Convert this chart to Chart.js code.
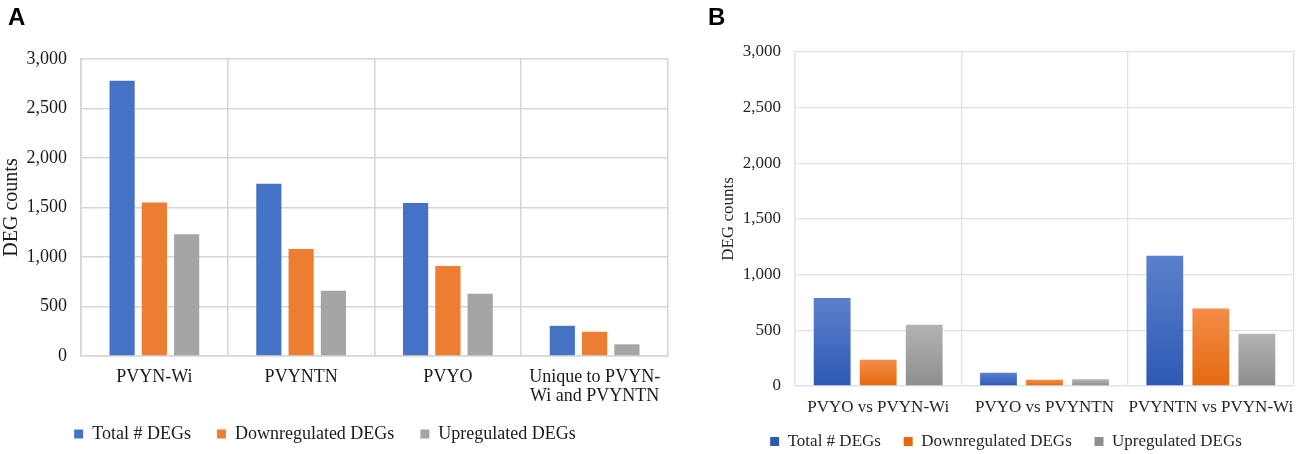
<!DOCTYPE html>
<html>
<head>
<meta charset="utf-8">
<script src="https://cdn.jsdelivr.net/npm/chart.js@4.4.1/dist/chart.umd.min.js"></script>
<style>
  html, body { margin: 0; padding: 0; background: #fff; width: 1299px; height: 454px; overflow: hidden; }
  canvas { position: absolute; top: 0; display: block; }
  .letter { position: absolute; top: 5px; font: bold 24px 'Liberation Sans', Arial, sans-serif; line-height: 24px; color: #000; }
</style>
</head>
<body>
<canvas id="chartA" width="690" height="453" style="left:0"></canvas>
<canvas id="chartB" width="609" height="460" style="left:690px"></canvas>
<div class="letter" style="left:8px">A</div>
<div class="letter" style="left:708px">B</div>
<script>
// panel A
const categoriesA = ['PVYN-Wi', 'PVYNTN', 'PVYO', ['Unique to PVYN-', 'Wi and PVYNTN']];
const totalA = [2780, 1740, 1545, 305];
const downA = [1550, 1080, 910, 245];
const upA = [1230, 660, 630, 118];

// panel B
const categoriesB = ['PVYO vs PVYN-Wi', 'PVYO vs PVYNTN', 'PVYNTN vs PVYN-Wi'];
const totalB = [790, 120, 1170];
const downB = [235, 57, 695];
const upB = [550, 60, 470];

const seriesNames = ['Total # DEGs', 'Downregulated DEGs', 'Upregulated DEGs'];
const yTicks = [0, 500, 1000, 1500, 2000, 2500, 3000];

const serif = "'Liberation Serif', 'Times New Roman', serif";

Chart.defaults.font.family = serif;
Chart.defaults.animation = false;

function fixW(w) { return function (s) { s.width = w; }; }
function fixH(h) { return function (s) { s.height = h; }; }

// per-bar vertical gradient for panel B
function grad(top, bottom, flat) {
  return function (ctx) {
    if (ctx.type !== 'data') return flat;
    const chart = ctx.chart;
    const y = chart.scales.y;
    if (!y) return flat;
    const y0 = y.getPixelForValue(0);
    const y1 = y.getPixelForValue(ctx.raw);
    if (!isFinite(y0) || !isFinite(y1) || y0 === y1) return flat;
    const g = chart.ctx.createLinearGradient(0, y1, 0, y0);
    g.addColorStop(0, top);
    g.addColorStop(1, bottom);
    return g;
  };
}

// legend spacing: pad item text with spaces (gap[i] spaces after item i)
function spacedLabels(gaps) {
  return function (chart) {
    const items = Chart.defaults.plugins.legend.labels.generateLabels(chart);
    items.forEach((it, i) => { it.text = it.text + ' '.repeat(gaps[i] || 0); });
    return items;
  };
}

function yScale(o) {
  return {
    min: 0,
    max: 3000,
    afterBuildTicks: function (s) { s.ticks = yTicks.map(v => ({ value: v })); },
    afterFit: fixW(o.yw),
    border: { color: o.grid, width: o.gw },
    grid: { color: o.grid, lineWidth: o.gw, drawTicks: false },
    ticks: { padding: 14, color: o.text, font: { size: o.size, family: serif } },
    title: { display: true, text: 'DEG counts', color: o.text, padding: 0,
             font: { size: o.titleSize, family: serif } }
  };
}

// invisible tick marks give the label gap without widening the side padding
function xScale(o) {
  return {
    afterFit: fixH(o.xh),
    border: { color: o.grid, width: o.gw },
    grid: { color: o.grid, lineWidth: o.gw, offset: true,
            drawTicks: true, tickLength: o.pad, tickColor: 'rgba(0,0,0,0)' },
    ticks: { padding: 0, color: o.text, maxRotation: 0, autoSkip: false,
             font: { size: o.size, family: serif, lineHeight: 1.1 } }
  };
}

new Chart(document.getElementById('chartA'), {
  type: 'bar',
  data: {
    labels: categoriesA,
    datasets: [
      { label: seriesNames[0], data: totalA, backgroundColor: '#4472C4' },
      { label: seriesNames[1], data: downA, backgroundColor: '#ED7D31' },
      { label: seriesNames[2], data: upA, backgroundColor: '#A5A5A5' }
    ]
  },
  options: {
    responsive: false,
    devicePixelRatio: 1,
    categoryPercentage: 0.66,
    barPercentage: 0.78,
    layout: { padding: { top: 59, left: 0, right: 22, bottom: 0 } },
    scales: {
      x: xScale({ xh: 61, pad: 11, size: 18, grid: '#d6d6d6', gw: 1.6, text: '#1a1a1a' }),
      y: yScale({ yw: 81, size: 18, grid: '#d6d6d6', gw: 1.6, text: '#1a1a1a', titleSize: 20 })
    },
    plugins: {
      tooltip: { enabled: false },
      legend: {
        position: 'bottom',
        labels: { boxWidth: 9, boxHeight: 9, padding: 8, color: '#1a1a1a',
                  font: { size: 18, family: serif },
                  generateLabels: spacedLabels([4, 4, 4]) }
      }
    }
  }
});

new Chart(document.getElementById('chartB'), {
  type: 'bar',
  data: {
    labels: categoriesB,
    datasets: [
      { label: seriesNames[0], data: totalB, backgroundColor: grad('#5c80cd', '#2d59b4', '#4472C4') },
      { label: seriesNames[1], data: downB, backgroundColor: grad('#f48d48', '#e56910', '#ED7D31') },
      { label: seriesNames[2], data: upB, backgroundColor: grad('#b3b3b3', '#8e8e8e', '#A5A5A5') }
    ]
  },
  options: {
    responsive: false,
    devicePixelRatio: 1,
    categoryPercentage: 0.83,
    barPercentage: 0.8,
    layout: { padding: { top: 52, left: 28, right: 5, bottom: 0 } },
    scales: {
      x: xScale({ xh: 37, pad: 12, size: 17, grid: '#dde1ea', gw: 1.3, text: '#262626' }),
      y: yScale({ yw: 77, size: 17, grid: '#dde1ea', gw: 1.3, text: '#262626', titleSize: 17 })
    },
    plugins: {
      tooltip: { enabled: false },
      legend: {
        position: 'bottom',
        labels: { boxWidth: 9, boxHeight: 9, padding: 10, color: '#262626',
                  font: { size: 17, family: serif },
                  generateLabels: spacedLabels([3, 3, 0]) }
      }
    }
  }
});
</script>
</body>
</html>
